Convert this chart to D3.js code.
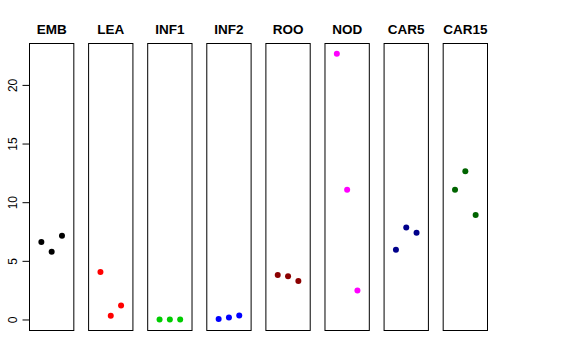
<!DOCTYPE html>
<html><head><meta charset="utf-8">
<script src="https://cdn.jsdelivr.net/npm/d3@7"></script>
<style>body{margin:0;background:#fff}svg{display:block}text{font-family:"Liberation Sans",Arial,sans-serif}</style>
</head><body>
<script>
const categories = ["EMB","LEA","INF1","INF2","ROO","NOD","CAR5","CAR15"];
const colors = ["#000000","#FF0000","#00CD00","#0000FF","#8B0000","#FF00FF","#00008B","#006400"];
const replicate = [1,2,3];
const values = {
  EMB:   [6.6, 5.78, 7.14],
  LEA:   [4.05, 0.31, 1.19],
  INF1:  [0.0, 0.0, 0.0],
  INF2:  [0.03, 0.17, 0.34],
  ROO:   [3.8, 3.69, 3.29],
  NOD:   [22.65, 11.05, 2.47],
  CAR5:  [5.95, 7.85, 7.4],
  CAR15: [11.05, 12.64, 8.9]
};
const yTicks = [0,5,10,15,20];

const W=576,H=360;
const svg=d3.select("body").append("svg").attr("width",W).attr("height",H);
const plotTop=43.5,plotBottom=330.5;
const y=d3.scaleLinear().domain([-0.94,23.53]).range([plotBottom,plotTop]);
const band=d3.scaleBand().domain(categories).range([29.5,487.5]).paddingInner(0.25).paddingOuter(0);
const xi=d3.scaleLinear().domain([-0.15,4.15]).range([0,band.bandwidth()]);

// y axis
const ax=svg.append("g").attr("transform","translate(29.5,0)")
  .call(d3.axisLeft(y).tickValues(yTicks).tickSize(7).tickPadding(3).tickFormat(d3.format("d")));
ax.select(".domain").remove();
ax.selectAll("line").attr("stroke","#000");
ax.selectAll("text").attr("font-size",12).attr("fill","#000")
  .attr("text-anchor","middle").attr("x",null)
  .attr("transform","translate(-17,0) rotate(-90)").attr("dy","0.35em");

categories.forEach((c,i)=>{
  const g=svg.append("g").attr("transform",`translate(${band(c)},0)`);
  g.append("rect").attr("x",0).attr("y",plotTop).attr("width",band.bandwidth()).attr("height",plotBottom-plotTop)
    .attr("fill","none").attr("stroke","#000").attr("stroke-width",1);
  g.append("text").attr("x",band.bandwidth()/2).attr("y",34).attr("text-anchor","middle")
    .attr("font-size",13.5).attr("font-weight","bold").text(c);
  g.selectAll("circle").data(values[c]).join("circle")
    .attr("cx",(d,j)=>xi(replicate[j])).attr("cy",d=>y(d)).attr("r",3).attr("fill",colors[i]);
});
</script>
</body></html>
